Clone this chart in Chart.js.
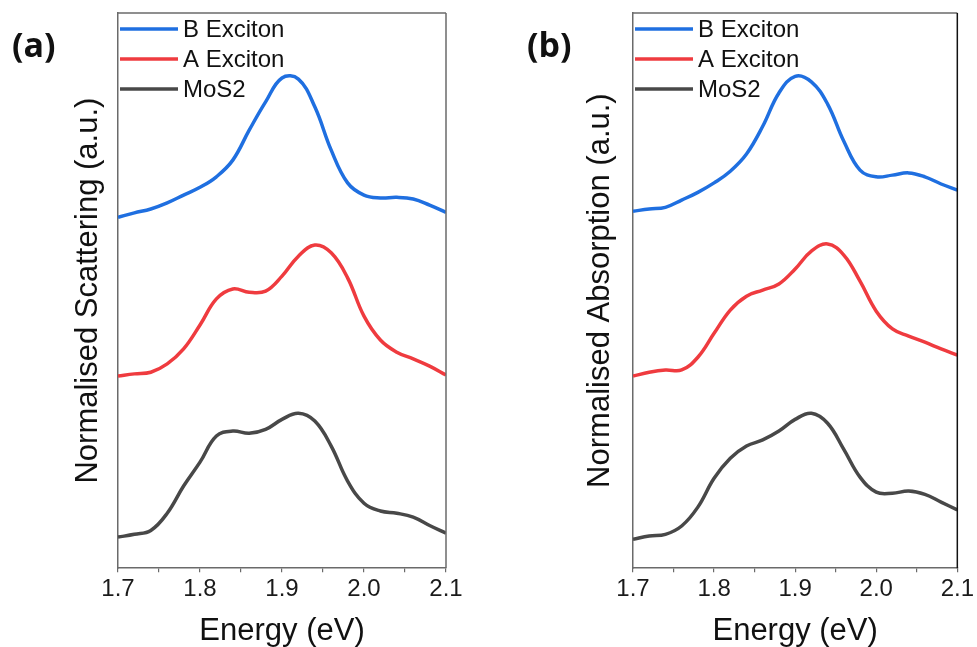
<!DOCTYPE html>
<html>
<head>
<meta charset="utf-8">
<script src="https://cdn.jsdelivr.net/npm/chart.js@4"></script>
<style>
  body { margin: 0; background: #fff; }
  #wrap { position: relative; width: 977px; height: 647px; }
  .panel { position: absolute; top: 0; height: 647px; }
  .tag { position: absolute; font-family: "Open Sans", sans-serif; font-weight: bold; font-size: 34px; color: #111; }
</style>
</head>
<body>
<div id="wrap">
  <div class="panel" style="left:0;width:490px"><canvas id="chartA"></canvas></div>
  <div class="panel" style="left:490px;width:487px"><canvas id="chartB"></canvas></div>
  <div class="tag" style="left:12px;top:21px">(a)</div>
  <div class="tag" style="left:527px;top:21px">(b)</div>
</div>
<script>
var energy = [1.70, 1.72, 1.74, 1.76, 1.78, 1.80, 1.82, 1.84, 1.86, 1.88, 1.90,
              1.92, 1.94, 1.96, 1.98, 2.00, 2.02, 2.04, 2.06, 2.08, 2.10];
var xTicks = [1.7, 1.8, 1.9, 2.0, 2.1];

// (a) scattering, offset traces
var scatB = [63.2, 64.0, 64.7, 65.8, 67.2, 68.6, 70.5, 73.5, 78.9, 84.0, 88.3,
             88.1, 83.1, 75.3, 69.4, 67.2, 66.7, 66.8, 66.5, 65.4, 64.1];
var scatA = [34.6, 35.0, 35.3, 36.8, 39.5, 43.8, 48.5, 50.3, 49.7, 49.9, 52.6,
             56.2, 58.2, 56.8, 52.3, 45.4, 41.1, 38.9, 37.7, 36.4, 34.8];
var scatMoS2 = [5.6, 6.1, 6.8, 9.9, 14.8, 19.1, 23.8, 24.7, 24.3, 25.0, 26.8,
                27.9, 26.5, 22.0, 15.7, 11.7, 10.3, 9.9, 9.2, 7.7, 6.3];

// (b) absorption, offset traces
var absB = [64.3, 64.7, 65.0, 66.3, 67.7, 69.4, 71.5, 74.6, 79.6, 85.6, 88.6,
            87.6, 83.6, 76.9, 71.7, 70.5, 70.8, 71.2, 70.5, 69.2, 68.1];
var absA = [34.6, 35.3, 35.7, 35.7, 38.0, 42.3, 46.5, 49.0, 50.1, 51.2, 53.9,
            57.1, 58.4, 56.4, 51.7, 46.3, 43.1, 41.8, 40.7, 39.5, 38.4];
var absMoS2 = [5.2, 5.8, 6.1, 7.6, 11.0, 16.2, 19.8, 22.0, 23.1, 24.7, 26.8,
               27.9, 26.1, 21.4, 16.4, 13.7, 13.5, 13.9, 13.3, 11.9, 10.5];

var labels = ['B Exciton', 'A Exciton', 'MoS2'];
var colors = ['#1f6fe0', '#ef3b3f', '#484848'];
var fontName = '"Liberation Sans", Arial, sans-serif';

function pts(arr) {
    return energy.map(function (e, i) { return { x: e, y: arr[i] }; });
}

// legend rows inside the plot + top/right frame
var boxPlugin = {
    id: 'boxLegend',
    afterDraw: function (chart, args, opts) {
        var ctx = chart.ctx, a = chart.chartArea;
        ctx.save();
        ctx.strokeStyle = '#6a6a6a';
        ctx.lineWidth = 1.5;
        ctx.beginPath();
        ctx.moveTo(a.left, a.top);
        ctx.lineTo(a.right, a.top);
        ctx.stroke();
        ctx.strokeStyle = opts.rightColor || '#6a6a6a';
        ctx.beginPath();
        ctx.moveTo(a.right, a.top);
        ctx.lineTo(a.right, a.bottom);
        ctx.stroke();

        ctx.font = '24px ' + fontName;
        ctx.textBaseline = 'middle';
        chart.data.datasets.forEach(function (ds, i) {
            var y = a.top + 16 + i * 30;
            ctx.strokeStyle = ds.borderColor;
            ctx.lineWidth = 3.5;
            ctx.beginPath();
            ctx.moveTo(a.left + 2, y);
            ctx.lineTo(a.left + 60, y);
            ctx.stroke();
            ctx.fillStyle = '#111';
            ctx.fillText(ds.label, a.left + 65, y + 1);
        });
        ctx.restore();
    }
};

function makeChart(id, series, yTitle, padLeft, padRight, titlePadBottom, rightColor) {
    new Chart(document.getElementById(id), {
        type: 'line',
        data: {
            datasets: series.map(function (s, i) {
                return {
                    label: labels[i],
                    data: pts(s),
                    borderColor: colors[i],
                    backgroundColor: colors[i],
                    borderWidth: 3.5,
                    pointRadius: 0,
                    tension: 0.4,
                    fill: false
                };
            })
        },
        options: {
            responsive: true,
            maintainAspectRatio: false,
            animation: false,
            layout: { padding: { left: padLeft, top: 13, right: padRight, bottom: 0 } },
            plugins: {
                legend: { display: false },
                tooltip: { enabled: false },
                boxLegend: { rightColor: rightColor }
            },
            scales: {
                x: {
                    type: 'linear',
                    min: 1.7,
                    max: 2.1,
                    afterBuildTicks: function (axis) {
                        var t = [];
                        for (var i = 0; i < xTicks.length; i++) {
                            t.push({ value: xTicks[i] });
                            if (i < xTicks.length - 1) t.push({ value: (xTicks[i] + xTicks[i + 1]) / 2 });
                        }
                        axis.ticks = t;
                    },
                    ticks: {
                        autoSkip: false,
                        maxRotation: 0,
                        padding: 3,
                        color: '#1a1a1a',
                        font: { family: fontName, size: 24 },
                        callback: function (v) {
                            return xTicks.some(function (t) { return Math.abs(t - v) < 1e-6; }) ? v.toFixed(1) : '';
                        }
                    },
                    grid: { display: true, drawOnChartArea: false, tickLength: 4, color: '#6a6a6a', lineWidth: 1.2 },
                    border: { display: true, color: '#6a6a6a', width: 1.5 },
                    title: {
                        display: true,
                        text: 'Energy (eV)',
                        color: '#111',
                        font: { family: fontName, size: 31, lineHeight: 1.0 },
                        padding: { top: 9, bottom: 0 }
                    }
                },
                y: {
                    min: 0,
                    max: 100,
                    ticks: { display: false },
                    grid: { display: false, drawTicks: false },
                    border: { display: true, color: '#6a6a6a', width: 1.5 },
                    title: {
                        display: true,
                        text: yTitle,
                        color: '#111',
                        font: { family: fontName, size: 31, lineHeight: 1.0 },
                        padding: { top: 4, bottom: titlePadBottom }
                    }
                }
            }
        },
        plugins: [boxPlugin]
    });
}

makeChart('chartA', [scatB, scatA, scatMoS2], 'Normalised Scattering (a.u.)', 68.5, 44, 14.5, '#6a6a6a');
makeChart('chartB', [absB, absA, absMoS2], 'Normalised Absorption (a.u.)', 90.5, 17, 17.5, '#111');
</script>
</body>
</html>
